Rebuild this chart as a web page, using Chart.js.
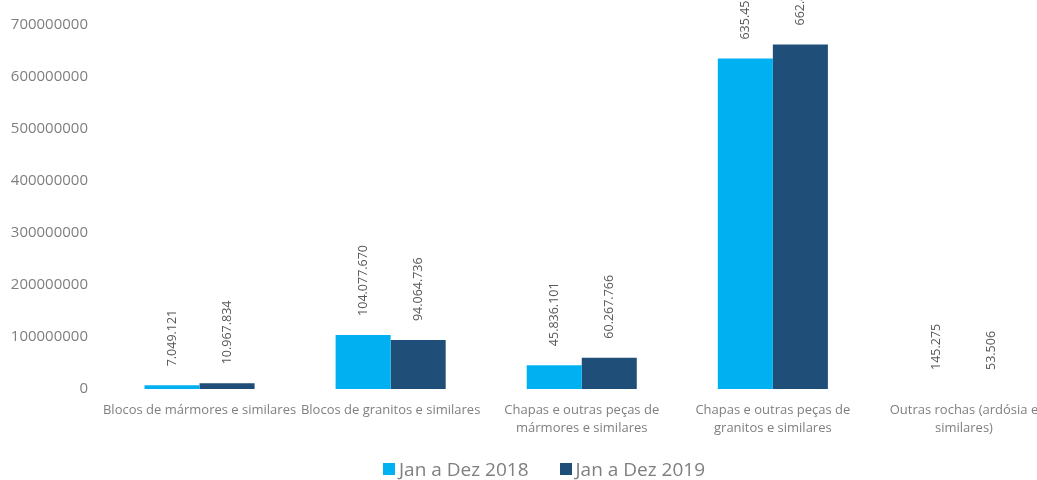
<!DOCTYPE html>
<html>
<head>
<meta charset="utf-8">
<script src="https://cdn.jsdelivr.net/npm/chart.js@4.4.1/dist/chart.umd.min.js"></script>
<style>
  html, body { margin: 0; padding: 0; background: #fff; overflow: hidden; }
  #wrap { width: 1088px; height: 480px; position: relative; }
  #legend {
    position: absolute; left: 0; width: 1088px; top: 456px; height: 26px;
    display: flex; justify-content: center; align-items: center; gap: 31px;
    font-family: "Open Sans", "Liberation Sans", sans-serif; font-size: 19px; color: #7f7f7f;
  }
  .lg-item { display: flex; align-items: center; white-space: nowrap; }
  .lg-box { width: 12px; height: 12px; margin-right: 4px; }
</style>
</head>
<body>
<div id="wrap"><canvas id="chart"></canvas><div id="legend"></div></div>
<script>
// ── data ──
const categories = [
  'Blocos de mármores e similares',
  'Blocos de granitos e similares',
  ['Chapas e outras peças de', 'mármores e similares'],
  ['Chapas e outras peças de', 'granitos e similares'],
  ['Outras rochas (ardósia e', 'similares)']
];
const seriesNames = ['Jan a Dez 2018', 'Jan a Dez 2019'];
const values2018 = [7049121, 104077670, 45836101, 635451800, 145275];
const values2019 = [10967834, 94064736, 60267766, 662478000, 53506];
const yTicks = [0, 100000000, 200000000, 300000000, 400000000, 500000000, 600000000, 700000000];

const COLORS = ['#00b0f0', '#1f4e79'];
const FONT = '"Open Sans", "Liberation Sans", sans-serif';

function fmtDots(v) {
  return String(v).replace(/\B(?=(\d{3})+(?!\d))/g, '.');
}

/* ═══ legend ═══ */
document.getElementById('legend').innerHTML = seriesNames.map((name, i) =>
  `<span class="lg-item"><span class="lg-box" style="background:${COLORS[i]}"></span>${name}</span>`
).join('');

/* ═══ rotated value labels above bars ═══ */
const barLabels = {
  id: 'barLabels',
  afterDatasetsDraw(chart) {
    const ctx = chart.ctx;
    ctx.save();
    ctx.font = '12.5px ' + FONT;
    ctx.fillStyle = '#595959';
    ctx.textAlign = 'left';
    ctx.textBaseline = 'middle';
    chart.data.datasets.forEach((ds, di) => {
      chart.getDatasetMeta(di).data.forEach((bar, i) => {
        ctx.save();
        ctx.translate(bar.x, bar.y - 19);
        ctx.rotate(-Math.PI / 2);
        ctx.fillText(fmtDots(ds.data[i]), 0, 0);
        ctx.restore();
      });
    });
    ctx.restore();
  }
};

new Chart(document.getElementById('chart').getContext('2d'), {
  type: 'bar',
  data: {
    labels: categories,
    datasets: [
      { label: seriesNames[0], data: values2018, backgroundColor: COLORS[0], borderWidth: 0 },
      { label: seriesNames[1], data: values2019, backgroundColor: COLORS[1], borderWidth: 0 }
    ]
  },
  options: {
    responsive: true,
    maintainAspectRatio: false,
    animation: false,
    datasets: { bar: { categoryPercentage: 0.576, barPercentage: 1 } },
    layout: { padding: { top: 25, left: 10, right: 28.5, bottom: 43 } },
    plugins: {
      tooltip: { enabled: false },
      legend: { display: false }
    },
    scales: {
      x: {
        grid: { display: false, drawTicks: false },
        border: { display: false },
        afterFit: scale => { scale.paddingLeft = 0; scale.paddingRight = 0; scale.height = 48; },
        ticks: {
          autoSkip: false, maxRotation: 0, minRotation: 0, padding: 12,
          color: '#7f7f7f',
          font: { family: FONT, size: 13, lineHeight: 1.385 }
        }
      },
      y: {
        min: 0, max: 700000000,
        afterBuildTicks: axis => { axis.ticks = yTicks.map(v => ({ value: v })); },
        afterFit: scale => { scale.width = 94; scale.paddingTop = 0; scale.paddingBottom = 0; },
        grid: { display: false, drawTicks: false },
        border: { display: false },
        ticks: {
          padding: 16,
          color: '#7f7f7f',
          font: { family: FONT, size: 15 },
          callback: v => String(v)
        }
      }
    }
  },
  plugins: [barLabels]
});
</script>
</body>
</html>
